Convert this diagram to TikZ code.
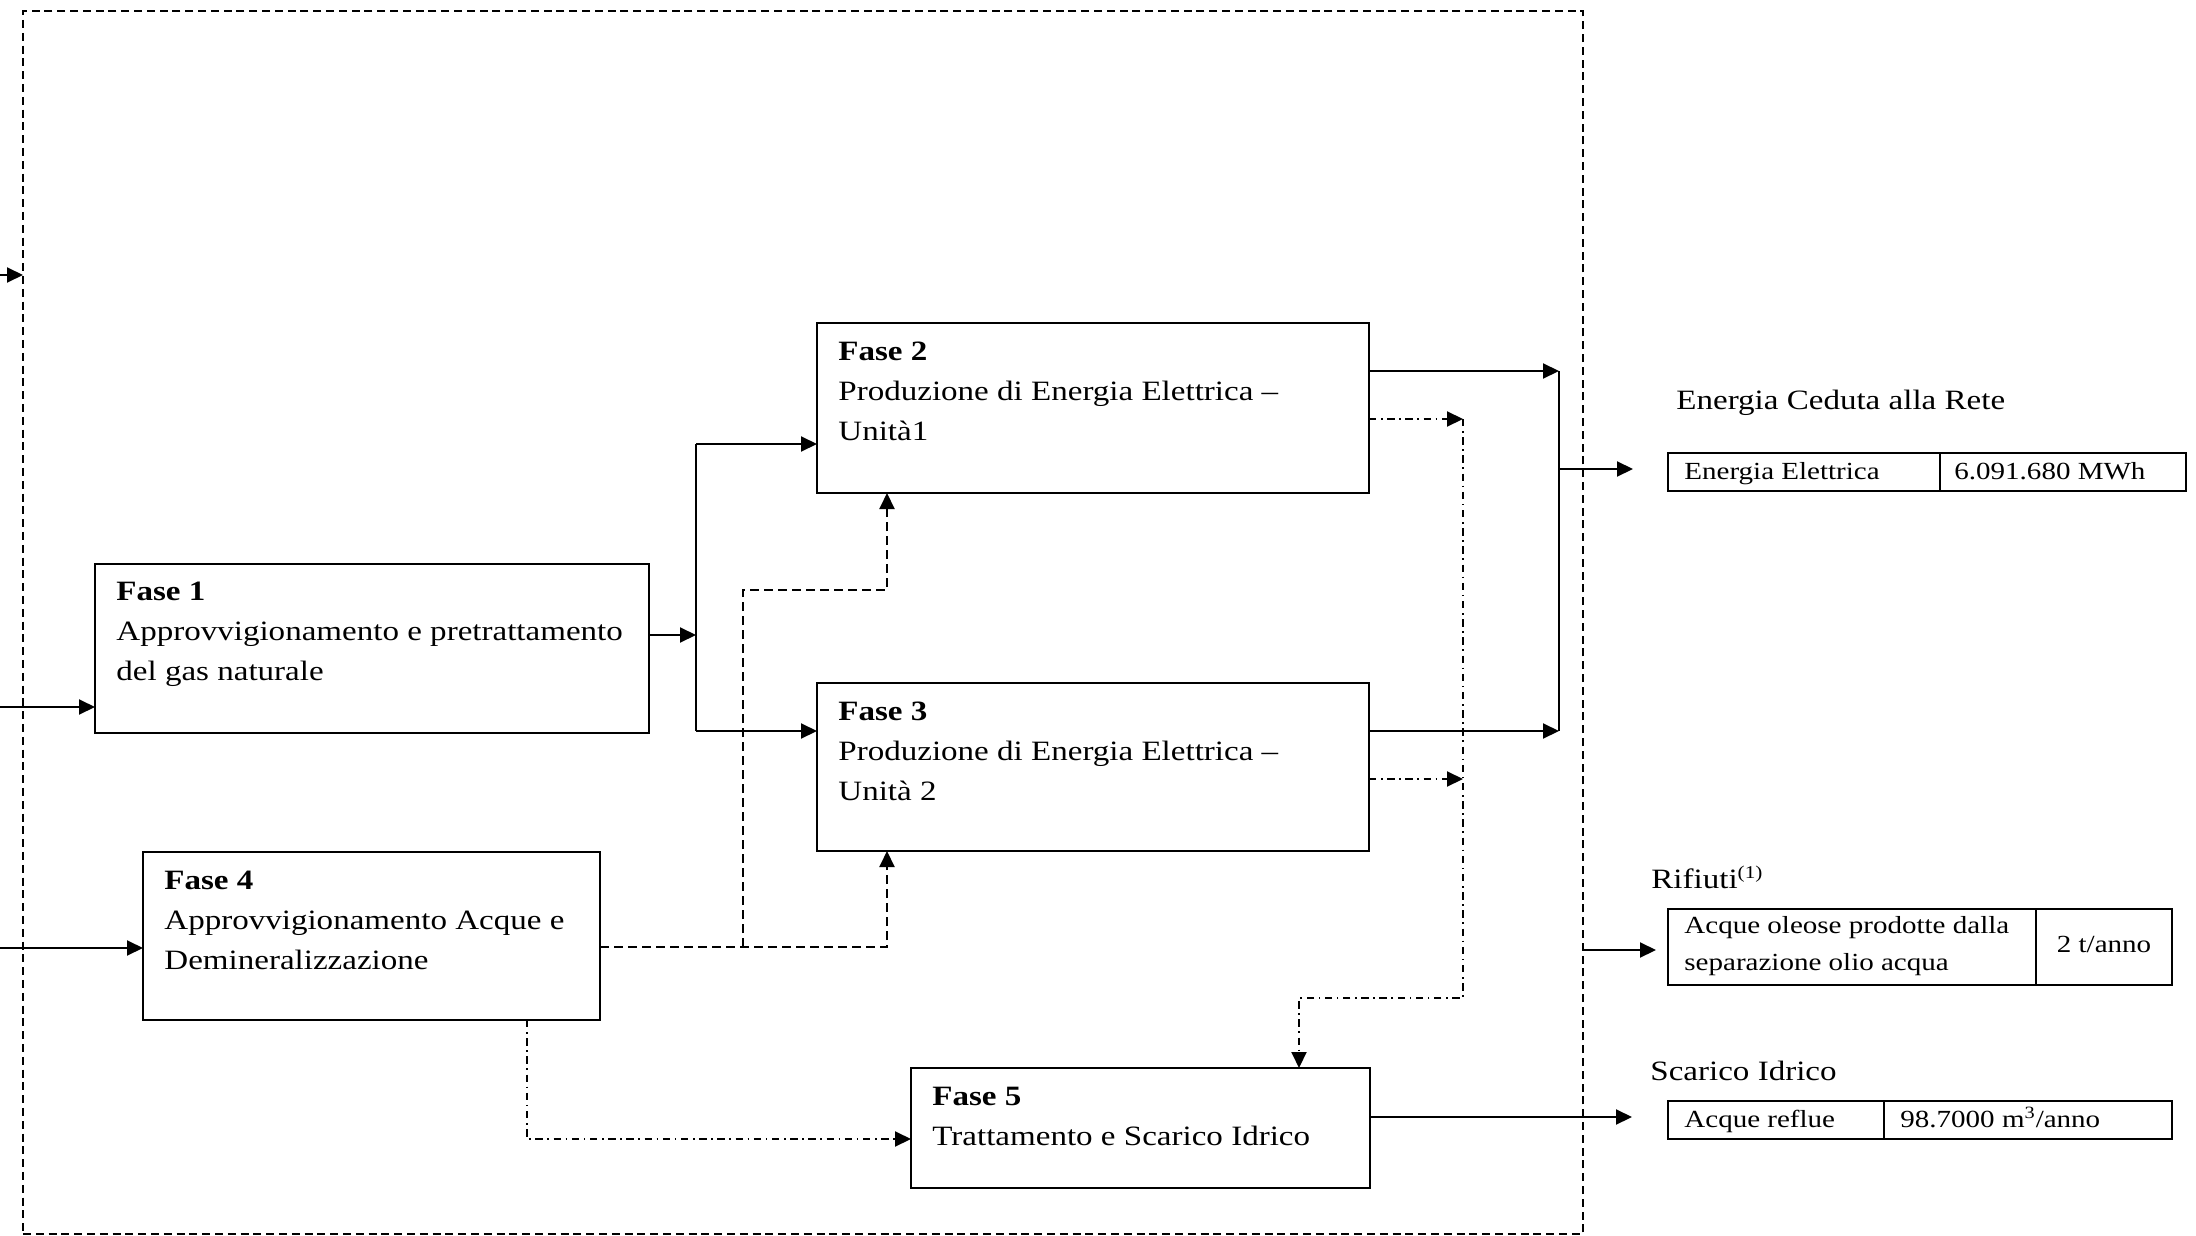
\documentclass[tikz,border=0pt]{standalone}
\usepackage{fontspec}
\setmainfont{Liberation Serif}[FakeStretch=1.18]
\usetikzlibrary{arrows.meta}
\newcommand{\msz}{\fontsize{14}{20}\selectfont}
\newcommand{\tsz}{\fontsize{12.3}{17}\selectfont}
\begin{document}
\begin{tikzpicture}[x=0.5pt,y=-0.5pt,
  box/.style={draw, line width=1pt, rectangle, inner sep=0pt, outer sep=0pt, anchor=north west},
  cell/.style={draw, line width=1pt, rectangle, inner sep=0pt, outer sep=0pt, anchor=north west},
  frame/.style={draw, line width=1.3pt, dash pattern=on 4pt off 2.4pt, rectangle, inner sep=0pt, outer sep=0pt, anchor=north west},
  txt/.style={inner sep=0pt, anchor=base west, font=\msz},
  ttxt/.style={inner sep=0pt, anchor=base west, font=\tsz},
  conn/.style={line width=1pt},
  tip/.style={-{Triangle[length=8pt,width=7.5pt]}},
  arr/.style={conn, tip},
  dsh/.style={line width=1pt, dash pattern=on 4.3pt off 2.7pt},
  dshdot/.style={line width=1pt, dash pattern=on 3.7pt off 2.3pt on 0.8pt off 2.3pt}
]
\useasboundingbox (0,0) rectangle (2196,1236);

% system boundary
\node[frame, minimum width=780pt, minimum height=611.5pt] (sys) at (23,11) {};

% phase boxes
\node[box, minimum width=277pt, minimum height=84.5pt] (f1) at (95,564) {};
\node[box, minimum width=276pt, minimum height=85pt] (f2) at (817,323) {};
\node[box, minimum width=276pt, minimum height=84pt] (f3) at (817,683) {};
\node[box, minimum width=228.5pt, minimum height=84pt] (f4) at (143,852) {};
\node[box, minimum width=229.5pt, minimum height=60pt] (f5) at (911,1068) {};

% phase texts
\node[txt] (t1a) at (116,600) {\textbf{Fase 1}};
\node[txt] (t1b) at (116,640) {Approvvigionamento e pretrattamento};
\node[txt] (t1c) at (116,680) {del gas naturale};
\node[txt] (t2a) at (838,360) {\textbf{Fase 2}};
\node[txt] (t2b) at (838,400) {Produzione di Energia Elettrica –};
\node[txt] (t2c) at (838,440) {Unità1};
\node[txt] (t3a) at (838,720) {\textbf{Fase 3}};
\node[txt] (t3b) at (838,760) {Produzione di Energia Elettrica –};
\node[txt] (t3c) at (838,800) {Unità 2};
\node[txt] (t4a) at (164,889) {\textbf{Fase 4}};
\node[txt] (t4b) at (164,929) {Approvvigionamento Acque e};
\node[txt] (t4c) at (164,969) {Demineralizzazione};
\node[txt] (t5a) at (932,1105) {\textbf{Fase 5}};
\node[txt] (t5b) at (932,1145) {Trattamento e Scarico Idrico};

% output tables
\node[txt] (h1) at (1676,409) {Energia Ceduta alla Rete};
\node[cell, minimum width=136pt, minimum height=19pt] (e1) at (1668,453) {};
\node[cell, minimum width=123pt, minimum height=19pt] (e2) at (e1.north east) {};
\node[ttxt] (e1t) at (1684,479) {Energia Elettrica};
\node[ttxt] (e2t) at (1954,479) {6.091.680 MWh};

\node[txt] (h2) at (1651,888) {Rifiuti{\fontsize{9}{10}\selectfont\raisebox{5pt}{(1)}}};
\node[cell, minimum width=184pt, minimum height=38pt] (r1c) at (1668,909) {};
\node[cell, minimum width=68pt, minimum height=38pt] (r2c) at (r1c.north east) {};
\node[ttxt] (r1t) at (1684,933) {Acque oleose prodotte dalla};
\node[ttxt] (r1u) at (1684,970) {separazione olio acqua};
\node[ttxt, anchor=base] (r2t) at (2104,952) {2 t/anno};

\node[txt] (h3) at (1650,1080) {Scarico Idrico};
\node[cell, minimum width=108pt, minimum height=19pt] (s1c) at (1668,1101) {};
\node[cell, minimum width=144pt, minimum height=19pt] (s2c) at (s1c.north east) {};
\node[ttxt] (s1t) at (1684,1127) {Acque reflue};
\node[ttxt] (s2t) at (1900,1127) {98.7000 m\textsuperscript{3}/anno};

% inputs
\coordinate (inA) at (0,275);
\draw[arr] (inA) -- (inA -| sys.west);
\coordinate (inB) at (0,707);
\draw[arr] (inB) -- (inB -| f1.west);
\coordinate (inC) at (0,948);
\draw[arr] (inC) -- (inC -| f4.west);

% Fase 1 to Fase 2 / 3
\coordinate (j1) at (696,635);
\coordinate (j2) at (696,444);
\coordinate (j3) at (696,731);
\draw[arr] (j1 -| f1.east) -- (j1);
\draw[conn] (j2) -- (j3);
\draw[arr] (j2) -- (j2 -| f2.west);
\draw[arr] (j3) -- (j3 -| f3.west);

% electricity collector
\coordinate (c2) at (1559,371);
\coordinate (c3) at (1559,731);
\coordinate (cm) at (1559,469);
\coordinate (eOut) at (1633,469);
\draw[arr] (c2 -| f2.east) -- (c2);
\draw[arr] (c3 -| f3.east) -- (c3);
\draw[conn] (c2) -- (c3);
\draw[arr] (cm) -- (eOut);

% dash-dot water to Fase 5
\coordinate (d2) at (1463,419);
\coordinate (d3) at (1463,779);
\coordinate (dB) at (1463,998);
\coordinate (dC) at (1299,998);
\draw[dshdot, tip] (d2 -| f2.east) -- (d2);
\draw[dshdot, tip] (d3 -| f3.east) -- (d3);
\draw[dshdot, tip] (d2) -- (dB) -- (dC) -- (dC |- f5.north);

% dashed demin water to Fase 2 / 3
\coordinate (w1) at (887,947);
\coordinate (w0) at (743,947);
\coordinate (w2) at (743,590);
\coordinate (w3) at (887,590);
\draw[dsh, tip] (w1 -| f4.east) -- (w1) -- (w1 |- f3.south);
\draw[dsh, tip] (w0) -- (w2) -- (w3) -- (w3 |- f2.south);

% dash-dot Fase 4 to Fase 5
\coordinate (v1) at (527,1139);
\draw[dshdot, tip] (v1 |- f4.south) -- (v1) -- (v1 -| f5.west);

% outputs
\coordinate (so) at (1632,1117);
\draw[arr] (so -| f5.east) -- (so);
\coordinate (ro) at (1656,950);
\draw[arr] (ro -| sys.east) -- (ro);
\end{tikzpicture}
\end{document}
